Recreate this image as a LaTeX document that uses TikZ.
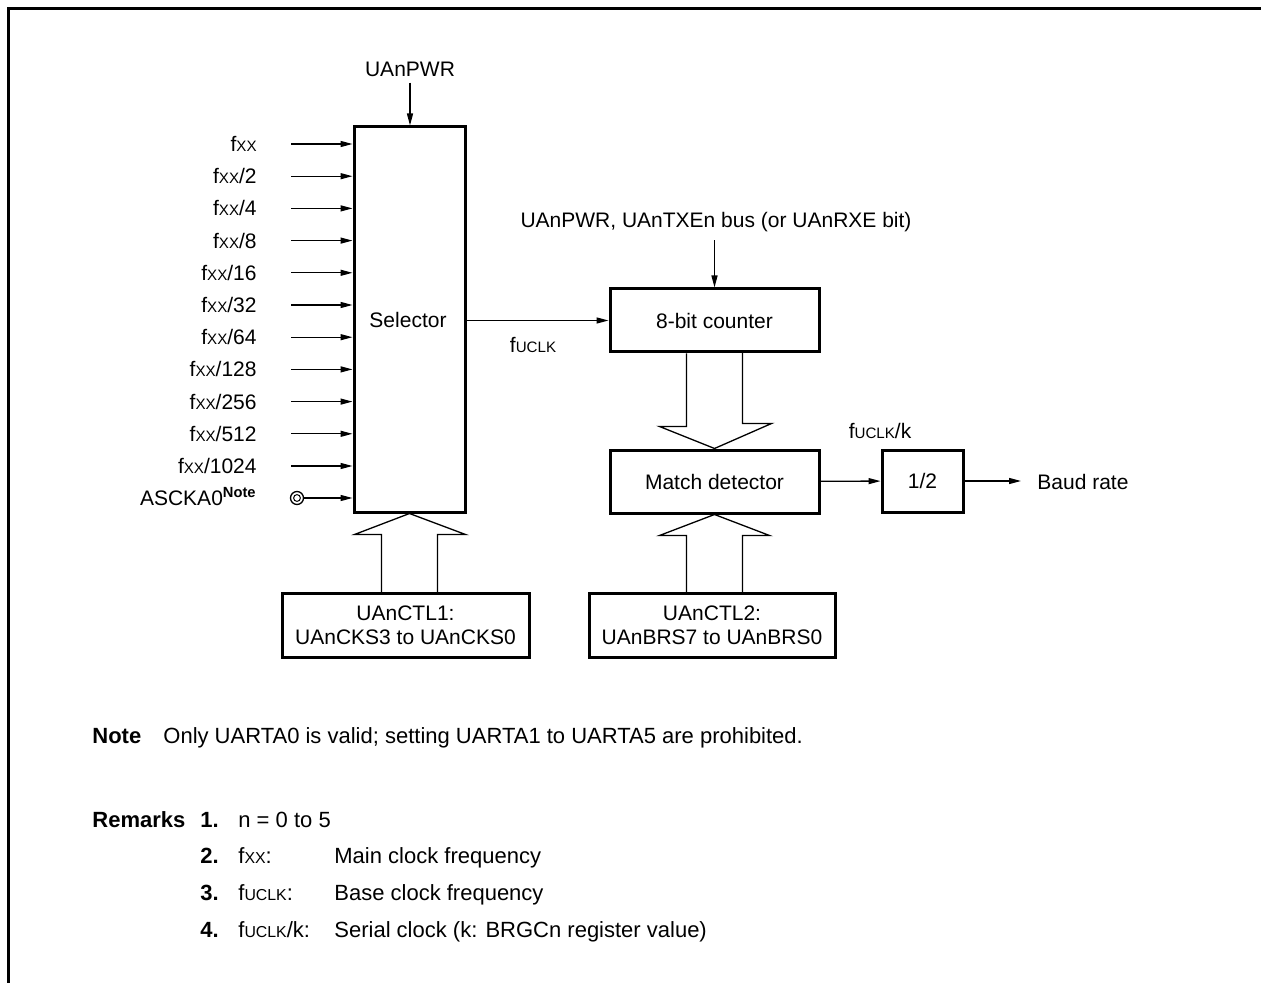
\documentclass[tikz,border=0pt]{standalone}
\usepackage{fontspec}
\setmainfont{Liberation Sans}
\usetikzlibrary{arrows.meta}
\newcommand{\smc}[1]{{\fontsize{0.72em}{1em}\selectfont #1}}
\tikzset{
  blk/.style={draw,line width=1.5pt,inner sep=0pt,align=center},
  sig/.style={line width=0.65pt,-{Triangle[length=6pt,width=3pt]}},
  bus/.style={line width=0.65pt,line join=miter},
  lbl/.style={inner sep=0pt},
  rmk/.style={inner sep=0pt,anchor=base west,font=\fontsize{11}{13}\selectfont},
  rmkb/.style={rmk,font=\fontsize{11}{13}\selectfont\bfseries},
}

\begin{document}
\begin{tikzpicture}[x=0.5pt,y=-0.5pt,font=\fontsize{10.5}{12}\selectfont]
\useasboundingbox (0,0) rectangle (1261,983);
% frame
\draw[line width=1.5pt] (8.5,983) -- (8.5,8.5) -- (1261,8.5);

% blocks
\node[blk,minimum width=55.5pt,minimum height=192.5pt] (sel) at (409.5,319.5) {};
\node[lbl] at (408,320) {Selector};
\node[blk,minimum width=104.5pt,minimum height=31.5pt] (cnt) at (714.5,320.5) {8-bit counter};
\node[blk,minimum width=104.5pt,minimum height=31.5pt] (mat) at (714.5,481.5) {Match detector};
\node[blk,minimum width=40.5pt,minimum height=31pt] (half) at (922.5,481) {1/2};
\node[blk,minimum width=123.5pt,minimum height=32pt] (ctl1) at (405.5,625) {UAnCTL1:\\UAnCKS3 to UAnCKS0};
\node[blk,minimum width=123pt,minimum height=32pt] (ctl2) at (712,625) {UAnCTL2:\\UAnBRS7 to UAnBRS0};

% control inputs
\node[lbl] (pwr) at (410,69) {UAnPWR};
\draw[sig,shorten <=3pt] (pwr.south) -- (pwr.south |- sel.north);
\node[lbl] (ctrl) at (716,222) {UAnPWR, UAnTXEn bus (or UAnRXE bit)};
\draw[sig,shorten <=4pt] (ctrl.south -| cnt.north) -- (cnt.north);

% clock inputs
\foreach \lbl [count=\i from 0] in {f\smc{XX},{f\smc{XX}/2},{f\smc{XX}/4},{f\smc{XX}/8},
    {f\smc{XX}/16},{f\smc{XX}/32},{f\smc{XX}/64},{f\smc{XX}/128},{f\smc{XX}/256},
    {f\smc{XX}/512},{f\smc{XX}/1024}} {
  \node[lbl,anchor=base east] (in\i) at (257,{151.5+32.2*\i}) {\lbl};
  \coordinate (s\i) at (291,{144+32.2*\i});
  \draw[sig] (s\i) -- (s\i -| sel.west);
}
\node[lbl,anchor=base east] (asck) at (257,505.5) {ASCKA0\textsuperscript{\textbf{Note}}};
\node[circle,draw,line width=0.65pt,minimum size=6.5pt,inner sep=0pt] (pin) at (297,498) {};
\draw[line width=0.5pt] (pin.center) circle[radius=1.7pt];
\draw[sig] (pin) -- (pin -| sel.west);

% data path
\draw[sig] (sel.east |- cnt.west) -- (cnt.west);
\node[lbl] (fuclk) at (533,345) {f\smc{UCLK}};
\draw[sig] (mat) -- (half);
\node[lbl] (fk) at (880,431) {f\smc{UCLK}/k};
\node[lbl,anchor=base west] (baud) at (1037,489.5) {Baud rate};
\draw[sig,shorten >=8pt] (half) -- (half -| baud.west);

% hollow bus arrows
\draw[bus] (sel.south) ++(-28,81) -- ++(0,-60) -- ++(-27,0) -- (sel.south) -- ++(56,21) -- ++(-28,0) -- ++(0,60);
\draw[bus] (cnt.south) ++(-28,0) -- ++(0,73) -- ++(-27,0) -- (mat.north) -- ++(57,-25) -- ++(-29,0) -- ++(0,-73);
\draw[bus] (mat.south) ++(-28,80) -- ++(0,-59) -- ++(-27,0) -- (mat.south) -- ++(55,21) -- ++(-27,0) -- ++(0,59);

% notes
\node[rmkb] (note) at (92,743) {Note};
\node[rmk] (notet) at (163,743) {Only UARTA0 is valid; setting UARTA1 to UARTA5 are prohibited.};
\node[rmkb] (rem) at (92,827) {Remarks};
\foreach \n/\a/\b/\y in {1/{n = 0 to 5}/{}/827, 2/{f\smc{XX}:}/{Main clock frequency}/863,
    3/{f\smc{UCLK}:}/{Base clock frequency}/900, 4/{f\smc{UCLK}/k:}/{Serial clock (k: BRGCn register value)}/937} {
  \node[rmkb] (num\n) at (200,\y) {\n.};
  \node[rmk] (ra\n) at (238,\y) {\a};
  \node[rmk] (rb\n) at (334,\y) {\b};
}
\end{tikzpicture}
\end{document}
